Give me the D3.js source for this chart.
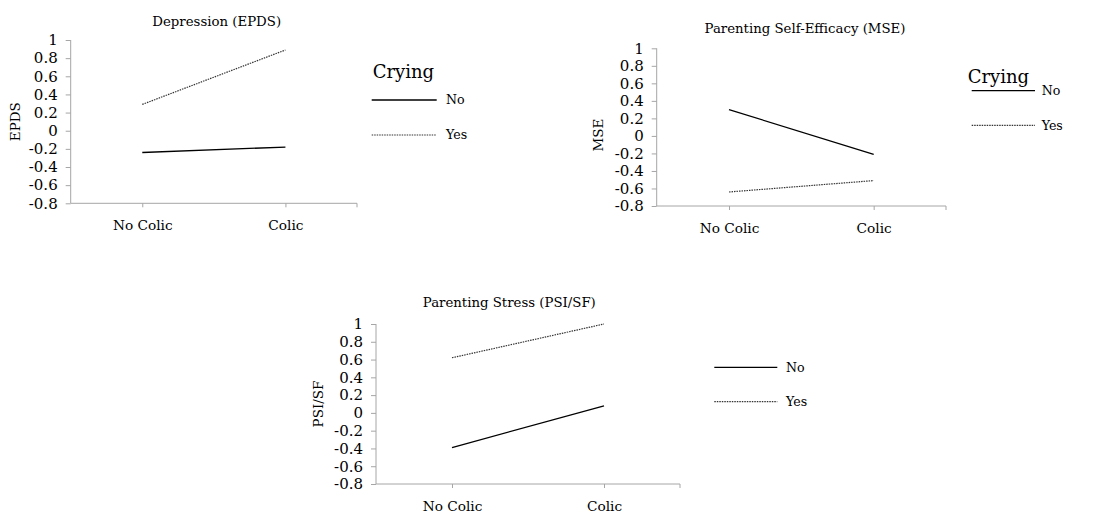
<!DOCTYPE html>
<html>
<head>
<meta charset="utf-8">
<script src="https://cdn.jsdelivr.net/npm/d3@7"></script>
<style>
  body { margin: 0; background: #fff; }
  svg { display: block; }
  svg text { font-family: "DejaVu Serif", "Liberation Serif", serif; fill: #000; }
</style>
</head>
<body>
<svg id="chart" width="1094" height="514"></svg>
<script>
// categories and tick labels
let categories = ["No Colic", "Colic"];
let yTicks = [1, 0.8, 0.6, 0.4, 0.2, 0, -0.2, -0.4, -0.6, -0.8];
let seriesNames = ["No", "Yes"];

// values (No Crying / Yes Crying)
let epdsNo = [-0.24, -0.18];
let epdsYes = [0.29, 0.89];
let mseNo = [0.30, -0.21];
let mseYes = [-0.64, -0.51];
let psiNo = [-0.39, 0.08];
let psiYes = [0.62, 1.0];

/* layout for each small chart */
let panels = [
    {
        title: "Depression (EPDS)", yLabel: "EPDS", no: epdsNo, yes: epdsYes,
        left: 70.7, right: 357, top: 40, bottom: 203.3,
        titleX: 216.7, titleY: 26, yLabelX: 15, yLabelY: 121.7,
        legend: { crying: [372.7, 78.3], x1: 371.7, x2: 436.7, textX: 446, rows: [100, 135] }
    },
    {
        title: "Parenting Self-Efficacy (MSE)", yLabel: "MSE", no: mseNo, yes: mseYes,
        left: 656.7, right: 946, top: 48.3, bottom: 206,
        titleX: 805, titleY: 33, yLabelX: 598.3, yLabelY: 135,
        legend: { crying: [967.7, 83], x1: 971.7, x2: 1035, textX: 1041.7, rows: [90.7, 125.3] }
    },
    {
        title: "Parenting Stress (PSI/SF)", yLabel: "PSI/SF", no: psiNo, yes: psiYes,
        left: 376, right: 680, top: 324, bottom: 484,
        titleX: 509.3, titleY: 307, yLabelX: 318.3, yLabelY: 404,
        legend: { crying: null, x1: 714.3, x2: 777.3, textX: 786, rows: [367.3, 401.7] }
    }
];

let axisColor = "#a6a6a6";
let lineStyles = {
    "No": { stroke: "#000", width: 1.3, dash: null },
    "Yes": { stroke: "#333", width: 1.2, dash: "1.5,1" }
};

let svg = d3.select("#chart");

let tickLabel = v => (v < 0 ? "-" : "") + String(Math.abs(v));

panels.forEach(p => {
    let g = svg.append("g");

    let xScale = d3.scalePoint()
        .domain(categories)
        .range([p.left, p.right])
        .padding(0.5);

    let yScale = d3.scaleLinear()
        .domain([-0.8, 1])
        .range([p.bottom, p.top]);

    /* y axis */
    let yAxis = d3.axisLeft(yScale)
        .tickValues(yTicks)
        .tickSize(5)
        .tickPadding(8)
        .tickFormat(tickLabel);

    let yAxisG = g.append("g")
        .attr("transform", "translate(" + p.left + ",0)")
        .call(yAxis)
        .attr("font-family", null)
        .attr("font-size", "15px");
    yAxisG.select("path.domain").attr("stroke", axisColor).attr("d", "M0," + p.top + "V" + p.bottom);
    yAxisG.selectAll(".tick line").attr("stroke", axisColor);

    /* x axis: ticks at categories and at the right end */
    g.append("line")
        .attr("x1", p.left).attr("x2", p.right)
        .attr("y1", p.bottom).attr("y2", p.bottom)
        .attr("stroke", axisColor);

    let xAxis = d3.axisBottom(xScale)
        .tickSize(4)
        .tickPadding(13);
    let xAxisG = g.append("g")
        .attr("transform", "translate(0," + p.bottom + ")")
        .call(xAxis)
        .attr("font-family", null)
        .attr("font-size", "13.7px");
    xAxisG.select("path.domain").remove();
    xAxisG.selectAll(".tick line").attr("stroke", axisColor);

    g.append("line")
        .attr("x1", p.right).attr("x2", p.right)
        .attr("y1", p.bottom).attr("y2", p.bottom + 4)
        .attr("stroke", axisColor);

    /* title and y label */
    g.append("text")
        .attr("x", p.titleX).attr("y", p.titleY)
        .attr("text-anchor", "middle")
        .style("font-size", "13.3px")
        .text(p.title);

    g.append("text")
        .attr("transform", "translate(" + p.yLabelX + "," + p.yLabelY + ")rotate(-90)")
        .attr("text-anchor", "middle")
        .attr("dy", "0.35em")
        .style("font-size", "13.5px")
        .text(p.yLabel);

    /* data lines */
    let line = d3.line()
        .x((d, i) => xScale(categories[i]))
        .y(d => yScale(d));

    [p.no, p.yes].forEach((vals, si) => {
        let st = lineStyles[seriesNames[si]];
        g.append("path")
            .datum(vals)
            .attr("d", line)
            .attr("fill", "none")
            .attr("stroke", st.stroke)
            .attr("stroke-width", st.width)
            .attr("stroke-dasharray", st.dash);
    });

    /* legend */
    let lg = p.legend;
    if (lg.crying) {
        g.append("text")
            .attr("x", lg.crying[0]).attr("y", lg.crying[1])
            .style("font-size", "18px")
            .text("Crying");
    }
    seriesNames.forEach((name, i) => {
        let st = lineStyles[name];
        g.append("line")
            .attr("x1", lg.x1).attr("x2", lg.x2)
            .attr("y1", lg.rows[i]).attr("y2", lg.rows[i])
            .attr("stroke", st.stroke)
            .attr("stroke-width", st.width)
            .attr("stroke-dasharray", st.dash);
        g.append("text")
            .attr("x", lg.textX).attr("y", lg.rows[i])
            .attr("dy", "0.35em")
            .style("font-size", "12.6px")
            .text(name);
    });
});
</script>
</body>
</html>
